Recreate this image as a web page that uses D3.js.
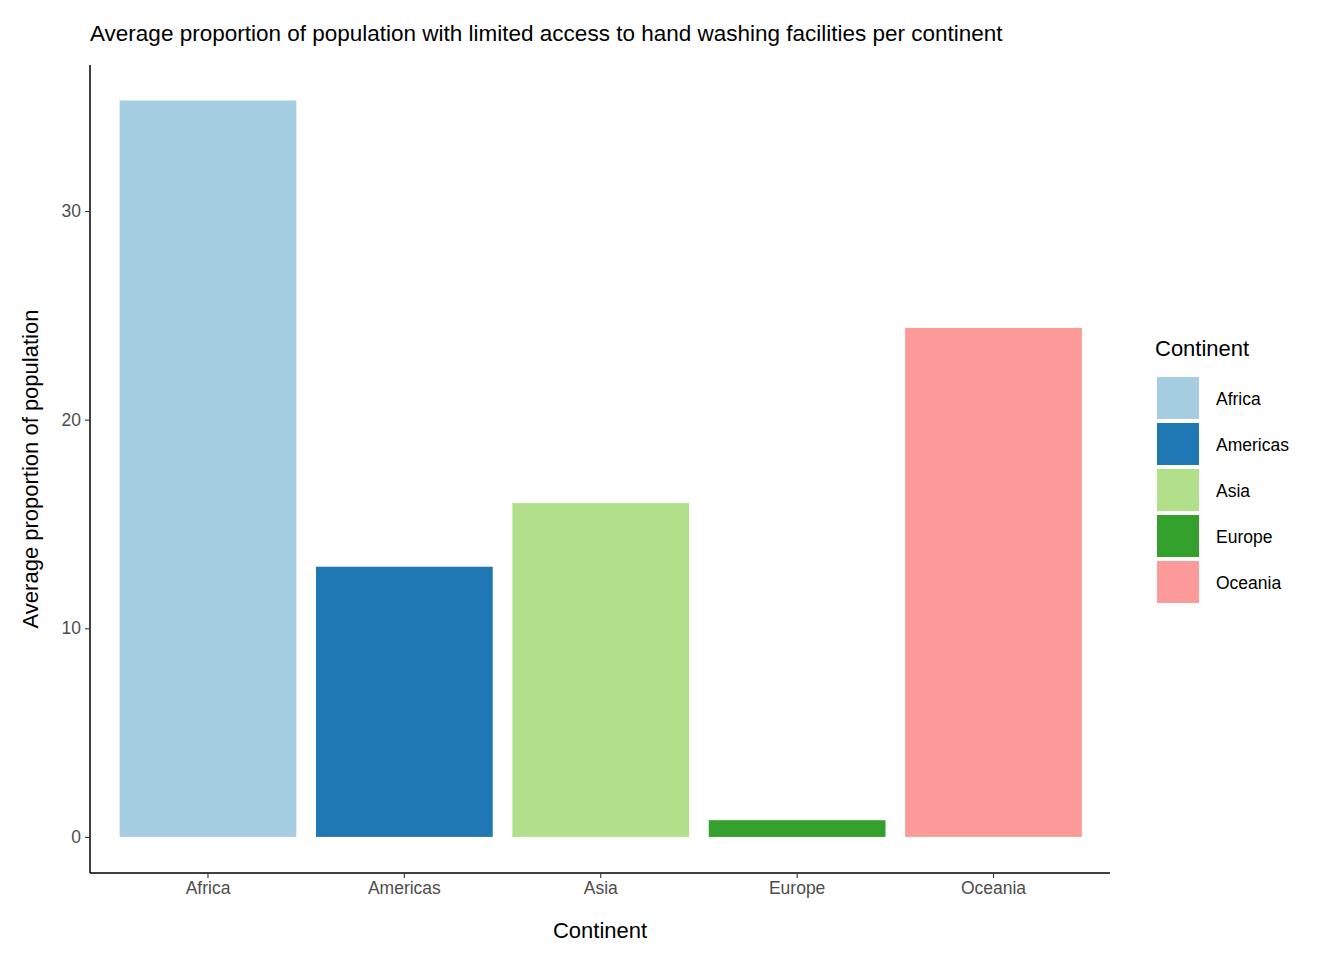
<!DOCTYPE html>
<html><head><meta charset="utf-8">
<script src="https://cdn.jsdelivr.net/npm/d3@7"></script>
<style>body{margin:0;background:#fff}text{font-family:"Liberation Sans",Arial,sans-serif}</style>
</head><body>
<script>
var continents = ['Africa', 'Americas', 'Asia', 'Europe', 'Oceania'];
var values = [35.3, 12.95, 16.0, 0.8, 24.4];
var colors = ['#a6cee3', '#1f78b4', '#b2df8a', '#33a02c', '#fb9a99'];
var yTicks = [0, 10, 20, 30];

var svg = d3.select('body').append('svg').attr('width', 1344).attr('height', 960);

var x = d3.scaleBand().domain(continents).range([109.8, 1091.7]);
var y = d3.scaleLinear().domain([-1.73, 37.0]).range([873, 65]);

svg.append('text').attr('x', 90).attr('y', 41).attr('font-size', 22.5)
  .text('Average proportion of population with limited access to hand washing facilities per continent');

svg.selectAll('rect.bar').data(continents).enter().append('rect')
  .attr('class', 'bar')
  .attr('x', function(d) { return x(d) + x.bandwidth() * 0.05; })
  .attr('width', x.bandwidth() * 0.9)
  .attr('y', function(d, i) { return y(values[i]); })
  .attr('height', function(d, i) { return y(0) - y(values[i]); })
  .attr('fill', function(d, i) { return colors[i]; });

var yAxis = svg.append('g').attr('transform', 'translate(90,0)')
  .call(d3.axisLeft(y).tickValues(yTicks).tickSize(5).tickPadding(4));
var xAxis = svg.append('g').attr('transform', 'translate(0,873)')
  .call(d3.axisBottom(x).tickSize(5).tickPadding(4));
[yAxis, xAxis].forEach(function(a) {
  a.select('.domain').attr('stroke', '#000').attr('stroke-width', 1.5);
  a.selectAll('.tick line').attr('stroke', '#333').attr('stroke-width', 1.1);
  a.selectAll('.tick text').attr('fill', '#4d4d4d').attr('font-size', 17.5)
    .style('font-family', '"Liberation Sans",Arial,sans-serif');
});
xAxis.select('.domain').attr('d', 'M90,0H1110');
yAxis.select('.domain').attr('d', 'M0,873V65');

svg.append('text').attr('x', 600).attr('y', 938).attr('text-anchor', 'middle')
  .attr('font-size', 22).text('Continent');
svg.append('text').attr('transform', 'translate(38,469) rotate(-90)')
  .attr('text-anchor', 'middle').attr('font-size', 22).text('Average proportion of population');

var legend = svg.append('g');
legend.append('text').attr('x', 1155).attr('y', 356).attr('font-size', 22).text('Continent');
var items = legend.selectAll('g.item').data(continents).enter().append('g')
  .attr('transform', function(d, i) { return 'translate(1157,' + (377 + i * 46) + ')'; });
items.append('rect').attr('width', 42).attr('height', 42)
  .attr('fill', function(d, i) { return colors[i]; });
items.append('text').attr('x', 59).attr('y', 28).attr('font-size', 17.5)
  .text(function(d) { return d; });
</script>
</body></html>
